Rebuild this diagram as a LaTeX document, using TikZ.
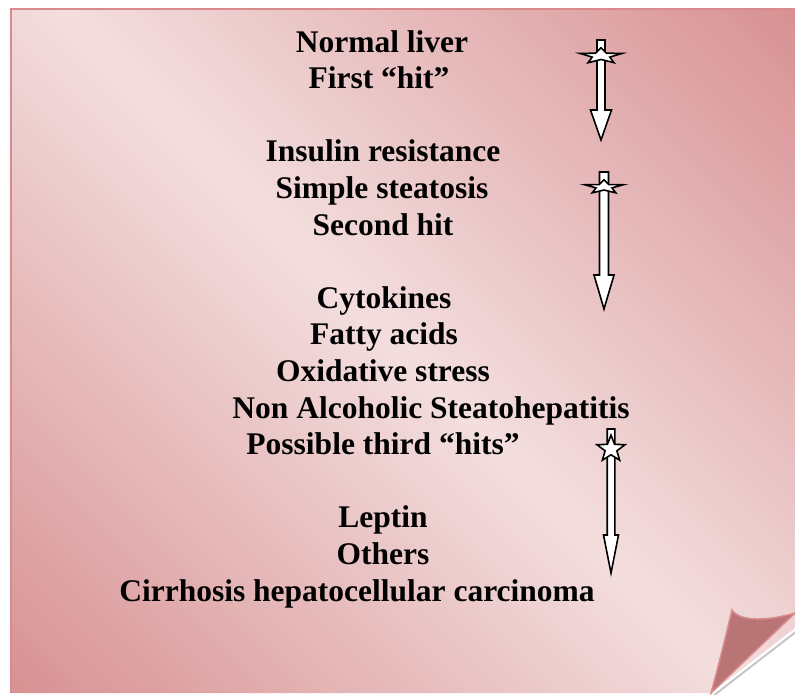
\documentclass[tikz,border=0pt]{standalone}
\usepackage{fontspec}
\setmainfont{Liberation Serif}
\definecolor{pagedark}{RGB}{216,146,148}
\definecolor{pagelight}{RGB}{243,222,222}
\definecolor{pageedge}{RGB}{217,138,140}
\definecolor{flapfill}{RGB}{185,117,118}
\begin{document}
\begin{tikzpicture}[x=1pt,y=-1pt,
    lbl/.style={font=\bfseries\fontsize{31.5}{36}\selectfont, anchor=base, inner sep=0pt},
    blk/.style={draw=black, line width=1.6pt, fill=white, line join=miter}]
    \useasboundingbox (0,0) rectangle (795,694);
    % note paper, shaded in diagonal bands
    \begin{scope}
        \clip (11,9) -- (795,9) -- (795,628) -- (711,693) -- (11,693) -- cycle;
        \foreach \i in {0,...,79} {
            \pgfmathsetmacro{\lt}{100*(1-abs(2*\i/79-1))}
            \pgfmathsetmacro{\ca}{\i*18.35-786}
            \pgfmathsetmacro{\cb}{\i*18.35-766}
            \fill[pagelight!\lt!pagedark] (-200,{-200+\ca}) -- (1100,{1100+\ca}) -- (1100,{1100+\cb}) -- (-200,{-200+\cb}) -- cycle;
        }
    \end{scope}
    \draw[pageedge, line width=2pt] (11,693) -- (11,9) -- (795,9);
    % folded corner
    \draw[gray!45, line width=2pt] (797,631) -- (713,696);
    \draw[pageedge, line width=1.5pt, fill=flapfill] (732,610) .. controls (740,622) and (768,621) .. (795,613)
        -- (711,693) .. controls (718,668) and (726,635) .. (732,610) -- cycle;
    % stages
    \node[lbl] (normal) at (382,52) {Normal liver};
    \node[lbl] (first) at (379,88.6) {First “hit”};
    \node[lbl] (insulin) at (383,161.8) {Insulin resistance};
    \node[lbl] (simple) at (382,198.4) {Simple steatosis};
    \node[lbl] (second) at (383,235) {Second hit};
    \node[lbl] (cyto) at (384,308.2) {Cytokines};
    \node[lbl] (fatty) at (384,344.8) {Fatty acids};
    \node[lbl] (oxid) at (383,381.4) {Oxidative stress};
    \node[lbl] (nash) at (431,418) {Non Alcoholic Steatohepatitis};
    \node[lbl] (third) at (383,454.6) {Possible third “hits”};
    \node[lbl] (leptin) at (383,527.8) {Leptin};
    \node[lbl] (others) at (383,564.4) {Others};
    \node[lbl] (cirr) at (357,601) {Cirrhosis hepatocellular carcinoma};
    % hit arrows
    \foreach \ax/\at/\ab/\as/\ah/\al/\sy/\rx/\ry in
        {601/40/140/4/10.5/30/56/22/8.3, 604/172/309/4.5/10/34/187/20/7.2, 611/429/573/3.8/7.5/38/449/14.7/13.8}
    {
        \draw[blk] (\ax-\as,\at) -- (\ax+\as,\at) -- (\ax+\as,\ab-\al) -- (\ax+\ah,\ab-\al)
            -- (\ax,\ab) -- (\ax-\ah,\ab-\al) -- (\ax-\as,\ab-\al) -- cycle;
        \begin{scope}[shift={(\ax,\sy)}, xscale=\rx, yscale=\ry]
            \draw[blk] (270:1) \foreach \a in {270,342,414,486,558} { -- ({\a+36}:0.42) -- ({\a+72}:1) } -- cycle;
        \end{scope}
    }
\end{tikzpicture}
\end{document}
